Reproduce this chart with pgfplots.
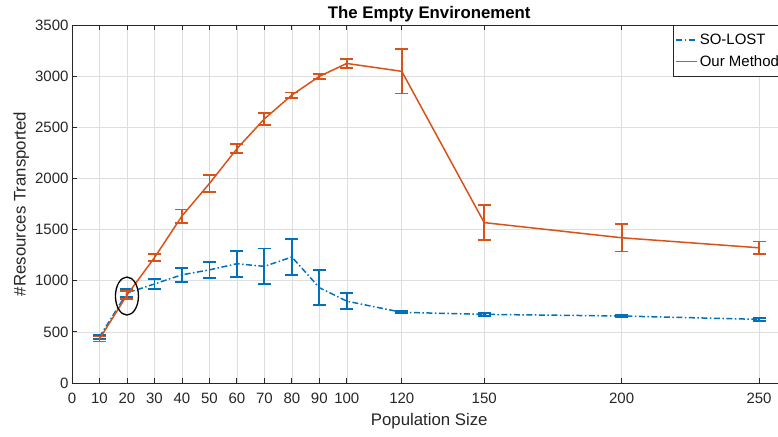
\documentclass[border=0pt]{standalone}
\usepackage{fontspec}
\setmainfont{Liberation Sans}
\usepackage{pgfplots}
\pgfplotsset{compat=1.18}
\definecolor{mblue}{RGB}{0,114,189}
\definecolor{morange}{RGB}{217,83,25}
\definecolor{axgray}{RGB}{38,38,38}

\begin{document}
\begin{tikzpicture}
\begin{axis}[
  scale only axis,
  width=714.5pt, height=358pt,
  xmin=0, xmax=260, ymin=0, ymax=3500,
  xtick={0,10,20,30,40,50,60,70,80,90,100,120,150,200,250},
  ytick={0,500,...,3500},
  tick align=inside, tick pos=both,
  major tick length=5pt,
  grid=major,
  major grid style={color=black!13, line width=0.6pt},
  axis line style={axgray, line width=0.8pt},
  every tick/.style={axgray, line width=0.8pt},
  tick label style={font=\fontsize{15}{18}\selectfont, text=axgray},
  xticklabel style={yshift=-6pt},
  /pgf/number format/assume math mode=true,
  /pgf/number format/1000 sep={},
  label style={font=\fontsize{16.8}{20}\selectfont, text=axgray},
  xlabel={Population Size},
  xlabel style={at={(axis description cs:0.5,0)}, anchor=north, yshift=-27pt},
  ylabel={\#Resources Transported},
  ylabel style={at={(axis description cs:-0.0552,0.5)}, anchor=south, rotate=0},
  title={The Empty Environement},
  title style={font=\bfseries\fontsize{16.8}{20}\selectfont, inner sep=2pt, yshift=-5.5pt},
  legend style={at={(0.841,1)}, anchor=north west,
    font=\fontsize{15}{18}\selectfont, draw=axgray, line width=0.8pt,
    inner xsep=2pt, inner ysep=6.5pt, row sep=5.5pt},
  legend cell align=left,
  legend image code/.code={\draw[#1] (0pt,0pt) -- (21pt,0pt);},
]

% SO-LOST
\addplot[mblue, line width=1.5pt, mark=none,
  dash pattern=on 6pt off 2.5pt on 1.5pt off 2.5pt,
  error bars/.cd, y dir=both, y explicit,
  error bar style={solid, line width=1.8pt},
  error mark options={rotate=90, mark size=6.5pt, line width=1.8pt, solid}]
coordinates {
  (10,450)  +- (0,18)
  (20,880)  +- (0,40)
  (30,968)  +- (0,52)
  (40,1058) +- (0,68)
  (50,1106) +- (0,77)
  (60,1166) +- (0,127)
  (70,1140) +- (0,175)
  (80,1232) +- (0,176)
  (90,932)  +- (0,170)
  (100,800) +- (0,77)
  (120,691) +- (0,10)
  (150,671) +- (0,14)
  (200,655) +- (0,10)
  (250,622) +- (0,14)
};
\addlegendentry{SO-LOST}

% Our Method
\addplot[morange, line width=1.5pt, mark=none,
  error bars/.cd, y dir=both, y explicit,
  error bar style={solid, line width=1.8pt},
  error mark options={rotate=90, mark size=6.5pt, line width=1.8pt, solid}]
coordinates {
  (10,430)   +- (0,25)
  (20,860)   +- (0,40)
  (30,1225)  +- (0,36)
  (40,1632)  +- (0,65)
  (50,1950)  +- (0,80)
  (60,2290)  +- (0,45)
  (70,2582)  +- (0,60)
  (80,2815)  +- (0,26)
  (90,2998)  +- (0,23)
  (100,3124) +- (0,45)
  (120,3047) +- (0,217)
  (150,1568) +- (0,173)
  (200,1420) +- (0,135)
  (250,1322) +- (0,62)
};
\addlegendentry{Our Method}

\draw[black, line width=1.3pt] (axis cs:20,850) ellipse [x radius=11.5pt, y radius=19pt];
\end{axis}
\pgfresetboundingbox
\path[use as bounding box] ([shift={(-72pt,-53pt)}]current axis.south west) rectangle ++(778pt,436pt);
\end{tikzpicture}
\end{document}
